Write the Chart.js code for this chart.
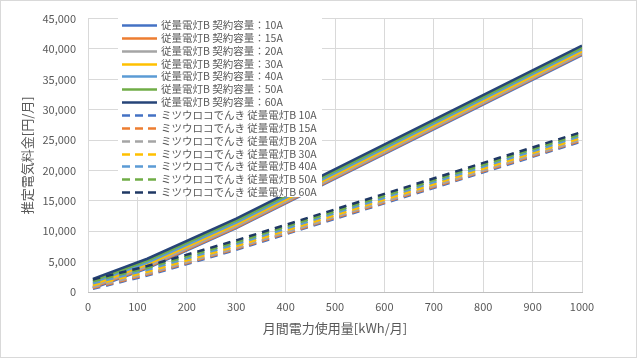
<!DOCTYPE html>
<html>
<head>
<meta charset="utf-8">
<script src="https://cdn.jsdelivr.net/npm/chart.js@4"></script>
<style>
  html, body { margin: 0; padding: 0; background: #fff; }
  canvas { display: block; }
</style>
</head>
<body>
<canvas id="chart" width="637" height="358"></canvas>
<script>
// usage points (kWh/month), tier breakpoints
const usage = [10, 120, 300, 1000];

// 従量電灯B (solid)
const std10A = [612, 3912, 10500, 38983];
const std15A = [768, 4068, 10656, 39139];
const std20A = [924, 4224, 10812, 39295];
const std30A = [1235, 4535, 11123, 39606];
const std40A = [1547, 4847, 11435, 39918];
const std50A = [1859, 5159, 11747, 40230];
const std60A = [2171, 5471, 12059, 40542];

// ミツウロコでんき 従量電灯B (dashed)
const mit10A = [512, 2712, 6942, 24792];
const mit15A = [668, 2868, 7098, 24948];
const mit20A = [824, 3024, 7254, 25104];
const mit30A = [1135, 3335, 7565, 25415];
const mit40A = [1447, 3647, 7877, 25727];
const mit50A = [1759, 3959, 8189, 26039];
const mit60A = [2071, 4271, 8501, 26351];

const amps = ['10A', '15A', '20A', '30A', '40A', '50A', '60A'];
const colors = ['#4472C4', '#ED7D31', '#A5A5A5', '#FFC000', '#5B9BD5', '#70AD47', '#264478'];
const dashColors = ['#4472C4', '#ED7D31', '#A5A5A5', '#FFC000', '#5B9BD5', '#70AD47', '#1F3864'];

const stdSeries = [std10A, std15A, std20A, std30A, std40A, std50A, std60A];
const mitSeries = [mit10A, mit15A, mit20A, mit30A, mit40A, mit50A, mit60A];

const TEXT = '#595959';
const GRID = '#d9d9d9';
const FONT = '"Noto Sans CJK JP", "Noto Sans", sans-serif';

const toPoints = vals => vals.map((v, i) => ({ x: usage[i], y: v }));

const datasets = [];
stdSeries.forEach((s, i) => {
  datasets.push({
    label: `従量電灯B 契約容量：${amps[i]}`,
    data: toPoints(s),
    borderColor: colors[i],
    backgroundColor: colors[i],
    borderWidth: 2.5,
    pointRadius: 0,
    fill: false,
  });
});
mitSeries.forEach((s, i) => {
  datasets.push({
    label: `ミツウロコでんき 従量電灯B ${amps[i]}`,
    data: toPoints(s),
    borderColor: dashColors[i],
    backgroundColor: dashColors[i],
    borderWidth: 2.5,
    borderDash: [7.5, 6],
    borderCapStyle: 'butt',
    pointRadius: 0,
    fill: false,
  });
});
// later series on top, like the spreadsheet
datasets.forEach((d, i) => { d.order = 100 - i; });

// background + outer frame
const frame = {
  id: 'frame',
  beforeDraw(chart) {
    const { ctx, width, height } = chart;
    ctx.save();
    ctx.fillStyle = '#fff';
    ctx.fillRect(0, 0, width, height);
    ctx.strokeStyle = GRID;
    ctx.lineWidth = 1;
    ctx.strokeRect(0.5, 0.5, width - 1, height - 1);
    ctx.restore();
  },
};

// legend box sitting inside the plot area
const boxLegend = {
  id: 'boxLegend',
  afterDatasetsDraw(chart) {
    const { ctx } = chart;
    const x0 = 118, y0 = 16, w = 204, h = 181;
    const rowTop = 25, rowGap = 12.85;
    ctx.save();
    ctx.fillStyle = '#fff';
    ctx.fillRect(x0, y0, w, h);
    ctx.font = `10.5px ${FONT}`;
    ctx.textBaseline = 'middle';
    ctx.textAlign = 'left';
    chart.data.datasets.forEach((d, i) => {
      const y = Math.round(rowTop + i * rowGap) + 0.5;
      ctx.strokeStyle = d.borderColor;
      ctx.lineWidth = 2.5;
      ctx.setLineDash(d.borderDash ? [8, 5] : []);
      ctx.beginPath();
      ctx.moveTo(122, y);
      ctx.lineTo(157, y);
      ctx.stroke();
      ctx.fillStyle = TEXT;
      ctx.fillText(d.label, 161, y);
    });
    ctx.restore();
  },
};

new Chart(document.getElementById('chart'), {
  type: 'line',
  data: { datasets },
  options: {
    responsive: false,
    animation: false,
    devicePixelRatio: 1,
    layout: { padding: { top: 15, right: 55, left: 0, bottom: 0 } },
    plugins: {
      legend: { display: false },
      tooltip: { enabled: false },
    },
    scales: {
      x: {
        type: 'linear',
        min: 0,
        max: 1000,
        afterFit: s => { s.height = 66; },
        ticks: {
          stepSize: 100,
          color: TEXT,
          font: { family: FONT, size: 11 },
          padding: 8,
          maxRotation: 0,
          callback: v => String(v),
        },
        grid: { color: GRID, drawTicks: false },
        border: { color: '#bfbfbf' },
        title: {
          display: true,
          text: '月間電力使用量[kWh/月]',
          color: TEXT,
          font: { family: FONT, size: 13 },
          padding: { bottom: 22 },
        },
      },
      y: {
        min: 0,
        max: 45000,
        afterFit: s => { s.width = 88; },
        ticks: {
          stepSize: 5000,
          color: TEXT,
          font: { family: FONT, size: 11 },
          padding: 12,
          callback: v => v.toLocaleString('en-US'),
        },
        grid: { color: GRID, drawTicks: false },
        border: { display: false },
        title: {
          display: true,
          text: '推定電気料金[円/月]',
          color: TEXT,
          font: { family: FONT, size: 13 },
          padding: { top: 19 },
        },
      },
    },
  },
  plugins: [frame, boxLegend],
});
</script>
</body>
</html>
